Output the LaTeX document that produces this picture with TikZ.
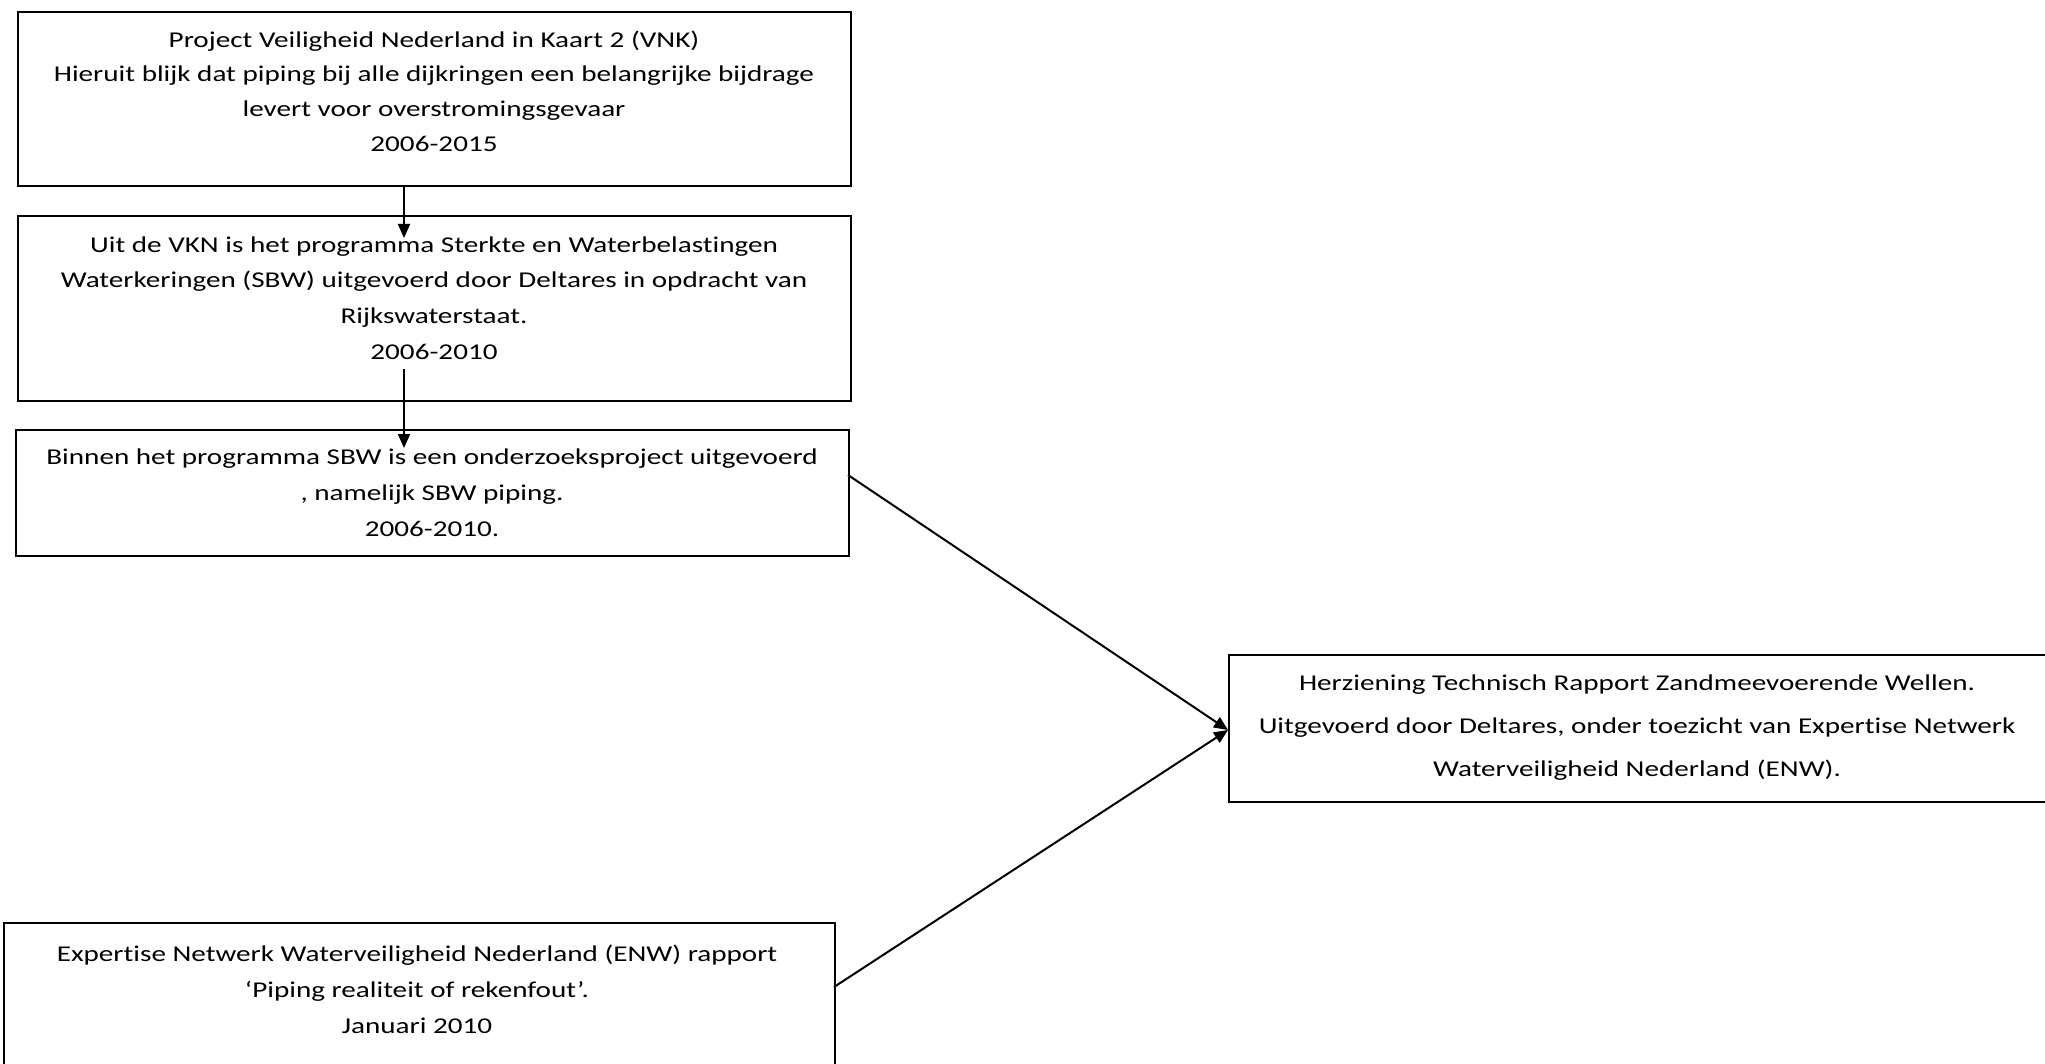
\documentclass[tikz,border=0pt]{standalone}
\usepackage{fontspec}
\setmainfont{Carlito}[FakeStretch=1.29,Ligatures=NoCommon]
\usetikzlibrary{arrows.meta}
\begin{document}
\begin{tikzpicture}[x=0.5pt,y=-0.5pt,
  boxst/.style={draw=black,line width=1pt,inner sep=0pt,anchor=north west},
  txt/.style={align=center,font=\fontsize{11.3pt}{17.3pt}\selectfont,inner sep=0pt},
  conn/.style={line width=1pt,-{Triangle[length=7pt,width=6pt]}}]
\clip (0,0) rectangle (2045,1064);
\useasboundingbox (0,0) rectangle (2045,1064);
% boxes
\node[boxst,minimum width=416.5pt,minimum height=87pt] (b1) at (17,11) {};
\node[boxst,minimum width=416.5pt,minimum height=92.5pt] (b2) at (17,215) {};
\node[boxst,minimum width=416.5pt,minimum height=63pt] (b3) at (15,429) {};
\node[boxst,minimum width=410pt,minimum height=73.5pt] (b4) at (1228,654) {};
\node[boxst,minimum width=415.5pt,minimum height=80pt] (b5) at (3,922) {};
% texts
\node[txt] (t1) at (434,91) {Project Veiligheid Nederland in Kaart 2 (VNK)\\Hieruit blijk dat piping bij alle dijkringen een belangrijke bijdrage\\levert voor overstromingsgevaar\\2006-2015};
\node[txt,font=\fontsize{11.3pt}{17.8pt}\selectfont] (t2) at (434,298) {Uit de VKN is het programma Sterkte en Waterbelastingen\\Waterkeringen (SBW) uitgevoerd door Deltares in opdracht van\\Rijkswaterstaat.\\2006-2010};
\node[txt,font=\fontsize{11.3pt}{18pt}\selectfont] (t3) at (432,493) {Binnen het programma SBW is een onderzoeksproject uitgevoerd\\, namelijk SBW piping.\\2006-2010.};
\node[txt,font=\fontsize{11.3pt}{21.5pt}\selectfont] (t4) at (1637,728) {Herziening Technisch Rapport Zandmeevoerende Wellen.\\Uitgevoerd door Deltares, onder toezicht van Expertise Netwerk\\Waterveiligheid Nederland (ENW).};
\node[txt,font=\fontsize{11.3pt}{18pt}\selectfont] (t5) at (417,989) {Expertise Netwerk Waterveiligheid Nederland (ENW) rapport\\‘Piping realiteit of rekenfout’.\\Januari 2010};
% connectors
\coordinate (a1s) at (404,185);
\coordinate (a1e) at (404,238);
\coordinate (a2s) at (404,369);
\coordinate (a2e) at (404,448);
\coordinate (c3) at (848,475);
\coordinate (c5) at (834,987);
\coordinate (c4) at (1228,730);
\draw[conn] (a1s) -- (a1e);
\draw[conn] (a2s) -- (a2e);
\draw[conn] (c3) -- (c4);
\draw[conn] (c5) -- (c4);
\end{tikzpicture}
\end{document}
